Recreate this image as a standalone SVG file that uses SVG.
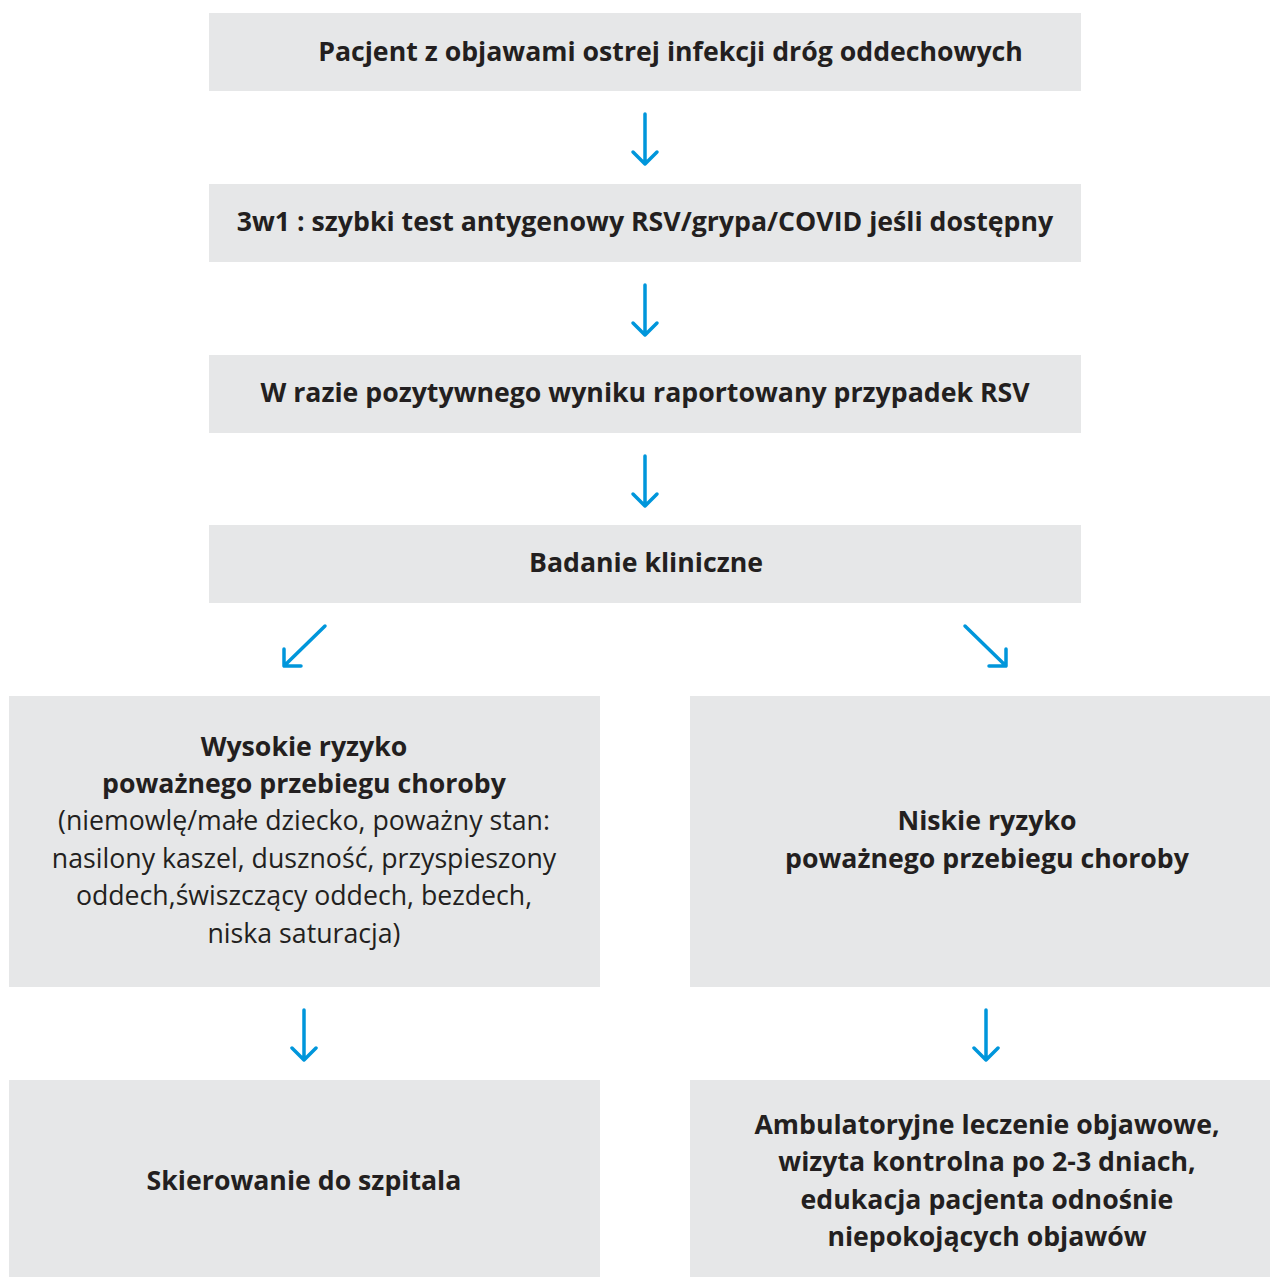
<svg xmlns="http://www.w3.org/2000/svg" width="1270" height="1277" viewBox="0 0 1270 1277">
<style>
.box{fill:#e6e7e8}
.t{font-family:"Open Sans","Noto Sans",sans-serif;font-size:26.7px;fill:#231f20;text-anchor:middle}
.b{font-weight:bold}
.c{fill:none;stroke:#0096db;stroke-width:3.5;stroke-linecap:round;stroke-linejoin:round}
</style>
<rect width="1270" height="1277" fill="#ffffff"/>
<g id="n1"><rect class="box" x="209" y="13" width="872" height="78"/><text class="t b" x="670.5" y="60.5">Pacjent z objawami ostrej infekcji dróg oddechowych</text></g>
<g id="n2"><rect class="box" x="209" y="184" width="872" height="78"/><text class="t b" x="645" y="230.5">3w1 : szybki test antygenowy RSV/grypa/COVID jeśli dostępny</text></g>
<g id="n3"><rect class="box" x="209" y="355" width="872" height="78"/><text class="t b" x="645" y="401.5">W razie pozytywnego wyniku raportowany przypadek RSV</text></g>
<g id="n4"><rect class="box" x="209" y="525" width="872" height="78"/><text class="t b" x="646" y="571.5">Badanie kliniczne</text></g>
<g id="n5"><rect class="box" x="9" y="696" width="591" height="291"/>
<text class="t b" x="304" y="756">Wysokie ryzyko</text>
<text class="t b" x="304" y="793">poważnego przebiegu choroby</text>
<text class="t" x="304" y="830">(niemowlę/małe dziecko, poważny stan:</text>
<text class="t" x="304" y="868">nasilony kaszel, duszność, przyspieszony</text>
<text class="t" x="304" y="905">oddech,świszczący oddech, bezdech,</text>
<text class="t" x="304" y="943">niska saturacja)</text></g>
<g id="n6"><rect class="box" x="690" y="696" width="580" height="291"/>
<text class="t b" x="987" y="830">Niskie ryzyko</text>
<text class="t b" x="987" y="868">poważnego przebiegu choroby</text></g>
<g id="n7"><rect class="box" x="9" y="1080" width="591" height="197"/>
<text class="t b" x="304" y="1190">Skierowanie do szpitala</text></g>
<g id="n8"><rect class="box" x="690" y="1080" width="580" height="197"/>
<text class="t b" x="987" y="1134">Ambulatoryjne leczenie objawowe,</text>
<text class="t b" x="987" y="1171">wizyta kontrolna po 2-3 dniach,</text>
<text class="t b" x="987" y="1209">edukacja pacjenta odnośnie</text>
<text class="t b" x="987" y="1246">niepokojących objawów</text></g>
<g id="connectors">
<path class="c" d="M645,114V164M633,152L645,164L657,152"/>
<path class="c" d="M645,285V335M633,323L645,335L657,323"/>
<path class="c" d="M645,456V506M633,494L645,506L657,494"/>
<path class="c" d="M325,626L284,666M284,649V666H301"/>
<path class="c" d="M965,626L1006,666M1006,649V666H989"/>
<path class="c" d="M304,1010V1060M292,1048L304,1060L316,1048"/>
<path class="c" d="M986,1010V1060M974,1048L986,1060L998,1048"/>
</g>
</svg>
